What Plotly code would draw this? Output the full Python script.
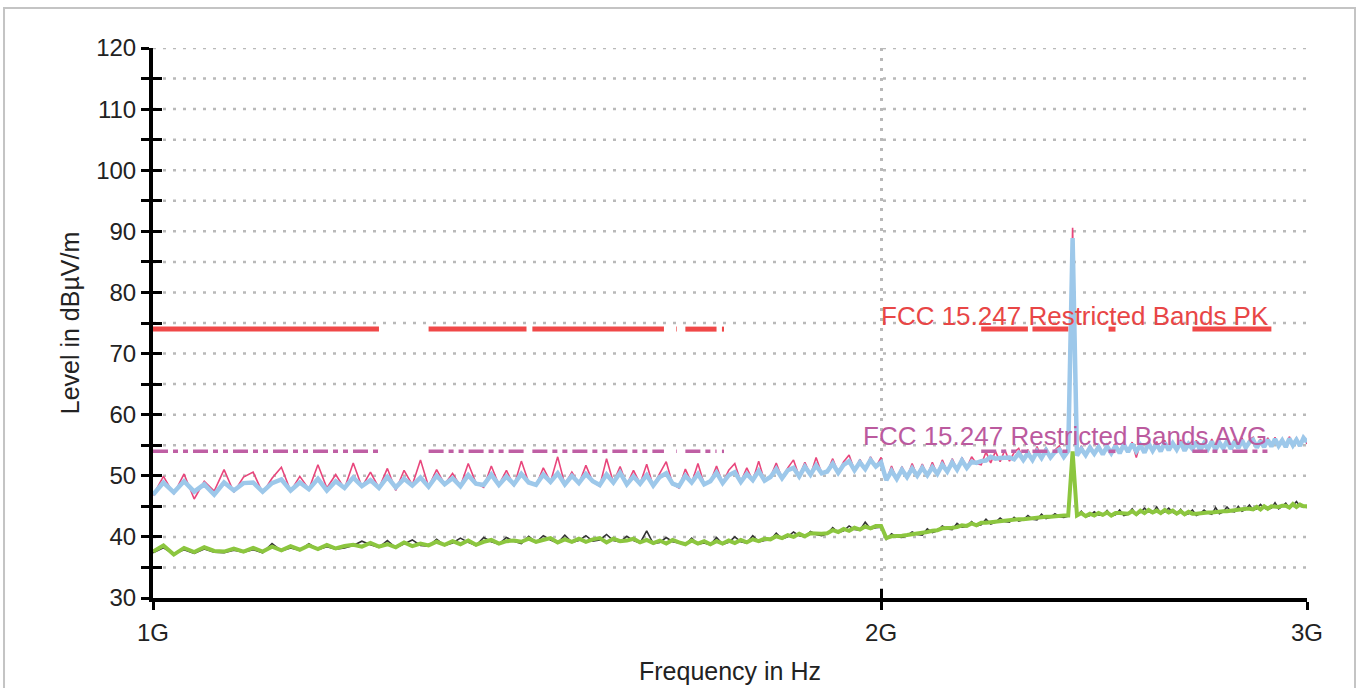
import numpy as np
import plotly.graph_objects as go

# ---------------- data ----------------
FREQ_START_GHZ = 1.00
FREQ_STEP_GHZ = 0.01

# Peak detector, max hold (pink, underneath)
peak_max = [
    46.8, 49.9, 47.0, 50.3, 46.2, 49.1, 47.5, 51.0, 47.3, 49.8,
    50.6, 47.2, 49.6, 51.4, 47.5, 49.9, 47.8, 51.8, 48.0, 50.2,
    47.9, 52.1, 48.2, 50.6, 48.0, 51.2, 47.6, 50.9, 48.5, 52.6,
    48.2, 51.0, 48.6, 50.4, 48.3, 52.0, 48.8, 48.1, 51.6, 48.5,
    50.9, 48.3, 52.4, 48.9, 48.4, 51.3, 49.0, 53.1, 48.6, 50.6,
    48.7, 51.7, 49.0, 48.3, 52.8, 48.9, 51.5, 48.5, 50.9, 48.7,
    51.9, 48.3, 50.4, 52.3, 48.6, 48.0, 51.1, 48.8, 52.0, 48.6,
    49.0, 51.6, 48.8, 50.9, 52.0, 49.0, 51.3, 49.2, 52.4, 49.1,
    49.8, 52.1, 49.6, 51.3, 52.6, 49.9, 52.2, 50.1, 53.0, 50.4,
    50.6, 52.8, 50.5, 52.3, 53.4, 50.9, 52.7, 51.0, 53.1, 51.4,
    53.0, 49.2, 51.6, 49.4, 51.5, 49.7, 52.0, 49.9, 51.9, 50.0,
    52.2, 50.2, 52.6, 50.7, 52.8, 51.0, 53.0, 51.3, 53.1, 52.0,
    51.8, 53.9, 52.1, 54.0, 52.3, 54.2, 52.4, 53.8, 54.5, 52.6,
    54.3, 52.6, 54.8, 52.9, 54.6, 53.0, 54.2, 54.9, 53.1, 54.5,
    90.6, 53.3, 54.9, 53.4, 55.0, 53.6, 55.1, 53.5, 55.2, 53.7,
    55.3, 53.7, 55.4, 53.9, 55.5, 53.0, 55.3, 53.8, 55.7, 54.1,
    55.6, 54.0, 55.8, 54.2, 55.6, 54.3, 55.9, 54.1, 55.5, 54.4,
    55.8, 54.2, 55.7, 54.4, 56.0, 54.3, 55.8, 54.5, 56.1, 54.4,
    56.0, 54.5, 56.2, 54.6, 55.9, 56.3, 54.6, 56.0, 54.7, 56.2,
    54.8, 56.3, 54.9, 56.1, 54.7, 56.4, 55.0, 56.2, 54.9, 56.5,
    55.2,
]

# Peak detector, clear write (light blue, on top)
peak_clr = [
    46.9, 48.9, 47.3, 49.1, 47.4, 48.6, 46.9, 48.9, 47.6, 48.8,
    48.9, 47.4, 48.8, 49.4, 47.6, 48.9, 47.8, 49.5, 47.6, 49.1,
    48.0, 49.7, 48.3, 49.3, 48.0, 49.8, 48.1, 49.5, 48.4, 49.7,
    48.2, 50.0, 48.6, 49.6, 48.3, 50.1, 48.7, 48.5, 50.2, 48.5,
    49.9, 48.6, 50.3, 48.9, 48.5, 50.2, 49.0, 50.4, 48.6, 50.0,
    48.8, 50.3, 49.1, 48.5, 50.2, 48.9, 50.5, 48.6, 49.9, 48.7,
    50.1, 48.4, 49.8, 50.4, 48.7, 48.3, 50.0, 48.9, 50.3, 48.6,
    49.1, 50.5, 48.8, 50.1, 50.6, 49.0, 50.3, 49.3, 50.8, 49.2,
    49.8, 51.1, 49.6, 50.9, 51.3, 49.9, 51.5, 50.2, 51.7, 50.4,
    50.7, 52.0, 50.5, 51.8, 52.4, 50.9, 52.2, 51.1, 52.6, 51.5,
    52.2, 49.3, 50.8, 49.5, 51.0, 49.8, 51.2, 50.0, 51.3, 50.1,
    51.4, 50.3, 51.8, 50.7, 52.2, 51.0, 52.5, 51.3, 52.3, 52.1,
    52.4, 52.5, 53.1, 52.8, 52.9, 53.0, 53.0, 52.7, 53.7, 52.6,
    53.7, 52.6, 54.0, 52.9, 54.2, 53.0, 53.9, 54.3, 53.1, 54.1,
    88.9, 53.3, 54.4, 53.4, 54.6, 53.6, 54.7, 53.5, 54.8, 53.7,
    54.9, 53.7, 55.1, 53.9, 55.2, 54.0, 55.0, 53.8, 55.3, 54.1,
    55.2, 54.0, 55.4, 54.2, 55.3, 54.3, 55.5, 54.1, 55.2, 54.4,
    55.5, 54.2, 55.3, 54.4, 55.6, 54.3, 55.4, 54.5, 55.7, 54.4,
    55.6, 54.5, 55.8, 54.6, 55.5, 55.9, 54.6, 55.7, 54.7, 55.9,
    54.8, 56.0, 54.9, 55.8, 54.7, 56.1, 55.0, 55.9, 54.9, 56.2,
    55.5,
]

# Average detector, max hold (dark, underneath)
avg_max = [
    37.4, 38.2, 37.2, 37.9, 37.3, 38.0, 37.5, 37.4, 37.8, 37.5,
    37.9, 37.4, 38.9, 37.7, 38.2, 37.8, 38.9, 37.9, 38.4, 38.0,
    38.2, 38.6, 39.3, 38.7, 38.3, 39.4, 38.2, 38.8, 39.5, 38.6,
    38.5, 39.6, 38.6, 39.0, 39.8, 39.1, 38.6, 39.9, 39.2, 38.8,
    39.9, 39.3, 38.9, 40.1, 39.1, 40.2, 39.5, 39.0, 40.3, 39.1,
    39.4, 40.2, 39.3, 39.5, 40.4, 39.4, 39.2, 40.1, 39.4, 39.0,
    41.0, 38.9, 39.1, 39.9, 39.2, 39.0, 38.7, 39.8, 38.8, 39.0,
    38.7, 39.9, 38.8, 39.1, 40.0, 39.2, 39.0, 40.2, 39.2, 39.4,
    39.5, 40.6, 39.7, 40.0, 40.8, 40.2, 40.0, 40.9, 40.4, 40.2,
    40.5, 41.5, 40.7, 41.0, 41.8, 41.2, 41.1, 42.4, 41.3, 41.5,
    41.6, 39.6, 40.5, 40.0, 39.9, 40.2, 40.8, 40.4, 40.3, 41.3,
    40.7, 41.0, 41.8, 41.3, 41.2, 42.2, 41.6, 41.7, 42.5, 41.8,
    42.0, 42.9, 42.1, 42.4, 43.1, 42.5, 42.4, 43.2, 42.6, 42.8,
    43.5, 42.9, 42.8, 43.7, 43.0, 43.2, 43.8, 43.3, 43.2, 43.4,
    53.0, 43.4, 44.2, 43.3, 43.5, 44.1, 43.6, 43.5, 44.3, 43.4,
    43.6, 44.4, 43.5, 43.7, 44.6, 43.6, 44.0, 44.7, 44.1, 43.9,
    44.9, 43.8, 44.1, 44.7, 44.0, 43.7, 44.5, 43.6, 43.8, 44.4,
    43.5, 43.8, 44.4, 43.9, 43.7, 44.8, 43.8, 44.1, 44.9, 44.2,
    44.1, 45.0, 44.2, 44.5, 45.2, 44.4, 44.6, 45.3, 44.7, 44.5,
    44.7, 45.6, 44.6, 45.0, 45.5, 44.7, 45.1, 45.8, 45.0, 44.9,
    44.8,
]

# Average detector, clear write (green, on top)
avg_clr = [
    37.6, 38.6, 37.1, 38.2, 37.5, 38.3, 37.7, 37.6, 38.1, 37.6,
    38.2, 37.6, 38.4, 37.8, 38.5, 37.9, 38.6, 38.0, 38.7, 38.1,
    38.5, 38.7, 38.4, 39.0, 38.4, 38.8, 38.3, 39.1, 38.5, 38.9,
    38.6, 39.2, 38.7, 39.3, 38.8, 39.4, 38.7, 39.2, 39.5, 38.9,
    39.3, 39.4, 39.2, 39.7, 39.2, 39.5, 39.8, 39.1, 39.6, 39.2,
    39.7, 39.2, 39.6, 39.8, 39.1, 39.7, 39.3, 39.4, 39.7, 39.1,
    39.5, 39.0, 39.4, 38.9, 39.5, 39.1, 38.8, 39.4, 38.9, 39.3,
    38.8, 39.3, 38.9, 39.4, 39.0, 39.5, 39.1, 39.6, 39.3, 39.7,
    39.6, 40.1, 39.8, 40.3, 40.0, 40.5, 40.1, 40.6, 40.5, 40.5,
    40.6, 41.1, 40.8, 41.3, 41.0, 41.5, 41.2, 41.7, 41.4, 41.8,
    41.8, 39.8, 40.1, 40.1, 40.2, 40.3, 40.4, 40.5, 40.6, 40.8,
    41.0, 41.1, 41.4, 41.4, 41.5, 41.6, 41.9, 41.8, 42.2, 41.9,
    42.3, 42.3, 42.4, 42.5, 42.6, 42.6, 42.7, 42.8, 42.9, 42.9,
    43.0, 43.0, 43.1, 43.2, 43.3, 43.3, 43.4, 43.4, 43.5, 43.5,
    54.0, 43.5, 43.9, 43.4, 43.8, 43.5, 43.9, 43.6, 44.0, 43.5,
    43.9, 43.9, 43.8, 43.8, 44.2, 43.7, 44.3, 43.9, 44.4, 44.0,
    44.3, 43.9, 44.4, 44.0, 44.3, 43.8, 44.2, 43.7, 44.1, 43.8,
    43.8, 43.9, 43.9, 44.0, 44.0, 44.1, 44.1, 44.2, 44.2, 44.3,
    44.4, 44.4, 44.5, 44.6, 44.6, 44.5, 44.9, 44.5, 45.0, 44.6,
    45.0, 45.0, 44.9, 45.1, 45.1, 44.8, 45.4, 44.9, 45.3, 45.0,
    45.0,
]

# FCC restricted bands inside the 1-3 GHz span (GHz)
band_start_ghz = [1.000, 1.300, 1.435, 1.6455, 1.660, 1.7188, 2.200, 2.310, 2.4835, 2.690]
band_stop_ghz = [1.240, 1.427, 1.6265, 1.6465, 1.710, 1.7222, 2.300, 2.390, 2.500, 2.900]
limit_pk = 74.0
limit_avg = 54.0
label_pk = "FCC 15.247 Restricted Bands PK"
label_avg = "FCC 15.247 Restricted Bands AVG"

x_tick_vals = [1e9, 2e9, 3e9]
x_tick_text = ["1G", "2G", "3G"]
y_tick_vals = list(range(30, 121, 5))
y_tick_text = [str(v) if v % 10 == 0 else "" for v in y_tick_vals]
y_range = [30, 120]

# ---------------- build ----------------
n = len(peak_clr)
assert len(peak_max) == n and len(avg_max) == n and len(avg_clr) == n, (len(peak_max), n, len(avg_max), len(avg_clr))
freq = (FREQ_START_GHZ + FREQ_STEP_GHZ * np.arange(n)) * 1e9


def segments(level):
    xs, ys = [], []
    for a, b in zip(band_start_ghz, band_stop_ghz):
        xs += [a * 1e9, b * 1e9, None]
        ys += [level, level, None]
    return xs, ys


GRID_COLOR = "#b9b9b9"
GRID_DASH = "3px,7px"
GRID_W = 2.5
x_range = [np.log10(1e9), np.log10(3e9)]

fig = go.Figure()

# horizontal dotted grid at every y tick (above the x axis line)
for v in y_tick_vals[1:]:
    fig.add_shape(type="line", xref="paper", x0=0, x1=1, yref="y", y0=v, y1=v,
                  line=dict(color=GRID_COLOR, width=GRID_W, dash=GRID_DASH), layer="below")

fig.add_trace(go.Scatter(x=freq, y=peak_max, mode="lines",
                         line=dict(color="#e8467c", width=1.6), hoverinfo="skip"))
fig.add_trace(go.Scatter(x=freq, y=peak_clr, mode="lines",
                         line=dict(color="#9dc8ea", width=4.5), hoverinfo="skip"))
fig.add_trace(go.Scatter(x=freq, y=avg_max, mode="lines",
                         line=dict(color="#333333", width=1.6), hoverinfo="skip"))
fig.add_trace(go.Scatter(x=freq, y=avg_clr, mode="lines",
                         line=dict(color="#8cc63f", width=4), hoverinfo="skip"))

xs, ys = segments(limit_pk)
fig.add_trace(go.Scatter(x=xs, y=ys, mode="lines", connectgaps=False,
                         line=dict(color="#f04848", width=5), hoverinfo="skip"))
xs, ys = segments(limit_avg)
fig.add_trace(go.Scatter(x=xs, y=ys, mode="lines", connectgaps=False,
                         line=dict(color="#bf5fa4", width=3.5, dash="15px,5px,5px,5px,5px,5px"),
                         hoverinfo="skip"))
# carrier for the overlay axes that draw the inner half of the crossing ticks
fig.add_trace(go.Scatter(x=[1e9], y=[None], xaxis="x2", yaxis="y2", mode="lines",
                         hoverinfo="skip", showlegend=False))

fig.add_annotation(x=np.log10(band_stop_ghz[-1] * 1e9), y=limit_pk, text=label_pk,
                   xanchor="right", yanchor="bottom", showarrow=False, yshift=-4, xshift=0,
                   font=dict(size=26, color="#e84646"))
fig.add_annotation(x=np.log10(band_stop_ghz[-1] * 1e9), y=limit_avg, text=label_avg,
                   xanchor="right", yanchor="bottom", showarrow=False, yshift=-2, xshift=-2,
                   font=dict(size=26, color="#bb5a9e"))

# outer frame of the picture
fig.add_shape(type="rect", xref="paper", yref="paper",
              x0=-0.1291, x1=1.0416, y0=-0.25, y1=1.0727,
              line=dict(color="#c4c4c4", width=2), fillcolor="rgba(0,0,0,0)")

fig.update_layout(
    width=1361, height=688,
    margin=dict(l=153, r=54, t=48, b=90, autoexpand=False),
    paper_bgcolor="white", plot_bgcolor="white",
    showlegend=False,
    font=dict(family="Liberation Sans, Arial, sans-serif", size=24, color="#222222"),
    xaxis=dict(type="log", range=x_range, tickvals=x_tick_vals, ticktext=x_tick_text,
               ticks="outside", ticklen=8, tickwidth=3, tickcolor="black",
               showline=True, linewidth=4, linecolor="black", zeroline=False,
               ticklabelstandoff=2,
               showgrid=True, gridcolor=GRID_COLOR, gridwidth=GRID_W, griddash=GRID_DASH,
               title=dict(text="Frequency in Hz", font=dict(size=25), standoff=19)),
    yaxis=dict(range=y_range, tickvals=y_tick_vals, ticktext=y_tick_text,
               ticks="outside", ticklen=8, tickwidth=3, tickcolor="black",
               showline=True, linewidth=4, linecolor="black", zeroline=False,
               ticklabelstandoff=0, showgrid=False,
               title=dict(text="Level in dBµV/m", font=dict(size=25), standoff=10)),
    xaxis2=dict(overlaying="x", type="log", range=x_range, tickvals=x_tick_vals,
                ticks="inside", ticklen=9, tickwidth=3, tickcolor="black",
                showticklabels=False, showgrid=False, showline=False, zeroline=False),
    yaxis2=dict(overlaying="y", range=y_range, tickvals=y_tick_vals,
                ticks="inside", ticklen=9, tickwidth=3, tickcolor="black",
                showticklabels=False, showgrid=False, showline=False, zeroline=False),
)

fig.write_html("out.html", config={"displayModeBar": False},
               post_script="document.body.style.margin='0px';document.body.style.overflow='hidden';")
